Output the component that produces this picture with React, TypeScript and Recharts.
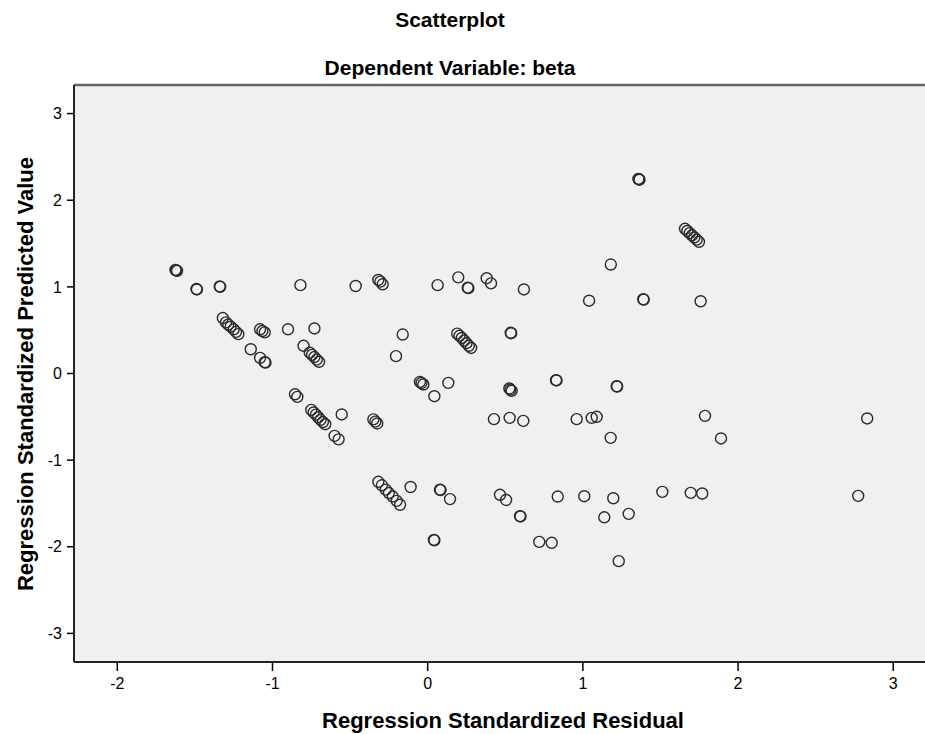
import { ScatterChart, Scatter, XAxis, YAxis, CartesianGrid, ReferenceLine } from 'recharts'

// values, one entry per case
const residual = [
  -1.625, -1.62, -1.615, -1.49, -1.487, -1.34, -1.337, -1.32,
  -1.3, -1.285, -1.27, -1.25, -1.235, -1.22,
  -1.08, -1.065, -1.05, -1.14, -1.08, -1.05, -1.045,
  -0.9, -0.82, -0.73, -0.8,
  -0.76, -0.745, -0.73, -0.715, -0.7,
  -0.855, -0.84,
  -0.75, -0.735, -0.72, -0.705, -0.69, -0.675, -0.66,
  -0.554, -0.6, -0.574,
  -0.464, -0.318, -0.305, -0.29,
  0.064, 0.197, 0.258, 0.262, 0.38, 0.408, 0.62, 1.04, 1.389, 1.392, 1.18,
  -0.161, -0.204,
  0.19, 0.205, 0.22, 0.235, 0.25, 0.265, 0.28,
  0.535, 0.538,
  -0.05, -0.04, -0.028, 0.133, 0.043,
  0.526, 0.533, 0.541, 0.827, 0.83, 1.218, 1.221,
  -0.35, -0.337, -0.325,
  0.427, 0.528, 0.616, 0.96, 1.057, 1.089, 1.179,
  -0.318, -0.295, -0.27, -0.25, -0.225, -0.2, -0.178,
  -0.11, 0.079, 0.083, 0.144, 0.04, 0.043,
  0.466, 0.505, 0.595, 0.598,
  0.838, 1.009, 1.196, 1.138, 1.295,
  0.719, 0.799, 1.231,
  1.512, 1.695, 1.769, 2.774,
  1.787, 1.89, 2.832, 1.759,
  1.358, 1.361, 1.365,
  1.658, 1.673, 1.688, 1.703, 1.718, 1.733, 1.748,
]

const predicted = [
  1.195, 1.19, 1.185, 0.975, 0.97, 1.005, 1.0, 0.64,
  0.59, 0.565, 0.54, 0.51, 0.48, 0.455,
  0.51, 0.49, 0.475, 0.28, 0.18, 0.13, 0.125,
  0.51, 1.02, 0.52, 0.32,
  0.24, 0.215, 0.19, 0.16, 0.135,
  -0.24, -0.27,
  -0.42, -0.45, -0.475, -0.505, -0.535, -0.56, -0.585,
  -0.473, -0.72, -0.76,
  1.01, 1.08, 1.06, 1.03,
  1.02, 1.11, 0.99, 0.985, 1.1, 1.04, 0.97, 0.84, 0.857, 0.853, 1.258,
  0.45, 0.2,
  0.46, 0.435, 0.41, 0.38, 0.35, 0.32, 0.295,
  0.47, 0.465,
  -0.097, -0.11, -0.127, -0.108, -0.262,
  -0.173, -0.185, -0.2, -0.077, -0.08, -0.147, -0.15,
  -0.53, -0.555, -0.577,
  -0.527, -0.512, -0.547, -0.527, -0.512, -0.5, -0.743,
  -1.25, -1.29, -1.34, -1.38, -1.42, -1.47, -1.515,
  -1.31, -1.34, -1.345, -1.45, -1.92, -1.925,
  -1.4, -1.46, -1.646, -1.65,
  -1.42, -1.416, -1.44, -1.66, -1.62,
  -1.943, -1.954, -2.166,
  -1.366, -1.378, -1.385, -1.412,
  -0.489, -0.75, -0.519, 0.834,
  2.246, 2.242, 2.237,
  1.67, 1.645, 1.62, 1.595, 1.57, 1.545, 1.52,
]

const xTicks = [-2, -1, 0, 1, 2, 3]
const yTicks = [-3, -2, -1, 0, 1, 2, 3]

const points = residual.map((x, i) => ({ x, y: predicted[i] }))

const font = '"Liberation Sans", Arial, sans-serif'

const ring = (props: any) => (
  <circle cx={props.cx} cy={props.cy} r={5.5} fill="none" stroke="#2b2b2b" strokeWidth={1.4} />
)

export default function App() {
  return (
    <div style={{ position: 'fixed', left: 0, top: 0, width: 925, height: 734, overflow: 'hidden', background: '#fff' }}>
      <ScatterChart width={933} height={734} margin={{ top: 85, right: 0, bottom: 0, left: 0 }}>
        <CartesianGrid fill="#f0f0f0" horizontal={false} vertical={false} />
        <XAxis
          type="number"
          dataKey="x"
          domain={[-2.279, 3.256]}
          ticks={xTicks}
          height={72}
          tick={{ fontSize: 16, fill: '#000', fontFamily: font }}
          tickLine={{ stroke: '#000', strokeWidth: 1.5 }}
          axisLine={{ stroke: '#222', strokeWidth: 2 }}
          tickSize={9}
          tickMargin={7}
          allowDataOverflow
        />
        <YAxis
          type="number"
          dataKey="y"
          domain={[-3.33, 3.33]}
          ticks={yTicks}
          width={74}
          tick={{ fontSize: 16, fill: '#000', fontFamily: font }}
          tickLine={{ stroke: '#000', strokeWidth: 1.5 }}
          axisLine={{ stroke: '#222', strokeWidth: 2 }}
          tickSize={7}
          tickMargin={5}
          allowDataOverflow
        />
        <ReferenceLine y={3.33} stroke="#666" strokeWidth={2.5} />
        <Scatter data={points} shape={ring} isAnimationActive={false} />
      </ScatterChart>
      <svg width={925} height={734} style={{ position: 'absolute', left: 0, top: 0, pointerEvents: 'none' }}>
        <g fontFamily={font} fontWeight="bold" fill="#000">
          <text x={450} y={27} fontSize={21} textAnchor="middle">Scatterplot</text>
          <text x={450} y={75} fontSize={21} textAnchor="middle">Dependent Variable: beta</text>
          <text x={503} y={728} fontSize={22} textAnchor="middle">Regression Standardized Residual</text>
          <text x={33} y={374} fontSize={22} textAnchor="middle" transform="rotate(-90 33 374)">
            Regression Standardized Predicted Value
          </text>
        </g>
      </svg>
    </div>
  )
}
